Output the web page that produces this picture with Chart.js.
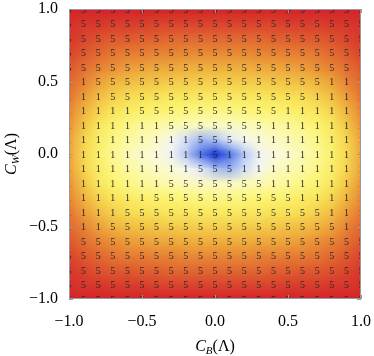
<!DOCTYPE html>
<html>
<head>
<meta charset="utf-8">
<script src="https://cdn.jsdelivr.net/npm/chart.js@4.4.1/dist/chart.umd.min.js"></script>
<style>
  html, body { margin: 0; padding: 0; background: #fff; }
</style>
</head>
<body>
<canvas id="chart" width="374" height="356"></canvas>
<script>
// grid of the density plot: C_B along x, C_W along y (top row first)
const xValues = [-1.0, -0.9, -0.8, -0.7, -0.6, -0.5, -0.4, -0.3, -0.2, -0.1, 0.0,
                 0.1, 0.2, 0.3, 0.4, 0.5, 0.6, 0.7, 0.8, 0.9, 1.0];
const yValues = [1.0, 0.9, 0.8, 0.7, 0.6, 0.5, 0.4, 0.3, 0.2, 0.1, 0.0,
                 -0.1, -0.2, -0.3, -0.4, -0.5, -0.6, -0.7, -0.8, -0.9, -1.0];

// the digit written at each grid point, one string per row
const labelRows = [
  '555555555555555555555',
  '555555555555555555555',
  '555555555555555555555',
  '555555555555555555555',
  '555555555555555555551',
  '115555555555555555111',
  '111555555555555551111',
  '111115555555555111111',
  '111111155555551111111',
  '111111111555111111111',
  '111111111151111111111',
  '111111111555111111111',
  '111111155555551111111',
  '111111555555555511111',
  '111155555555555555111',
  '111555555555555555511',
  '155555555555555555555',
  '555555555555555555555',
  '555555555555555555555',
  '555555555555555555555',
  '555555555555555555555'
];

// shade at each grid point (0 = blue, 0.43 = white, 0.6 = yellow, 1 = red)
const heatRows = [
  [1.00,1.00,1.00,1.00,1.00,1.00,1.00,1.00,1.00,1.00,1.00,1.00,1.00,1.00,1.00,1.00,1.00,1.00,1.00,1.00,1.00],
  [0.98,0.97,0.97,0.96,0.96,0.96,0.95,0.95,0.95,0.95,0.95,0.95,0.95,0.95,0.95,0.96,0.96,0.96,0.97,0.97,0.98],
  [0.97,0.95,0.93,0.92,0.92,0.91,0.91,0.90,0.90,0.90,0.90,0.90,0.90,0.90,0.91,0.91,0.92,0.92,0.93,0.95,0.97],
  [0.95,0.92,0.90,0.88,0.87,0.87,0.86,0.86,0.85,0.85,0.85,0.85,0.85,0.86,0.86,0.87,0.87,0.88,0.90,0.92,0.95],
  [0.92,0.89,0.86,0.84,0.82,0.81,0.80,0.80,0.79,0.79,0.79,0.79,0.79,0.80,0.80,0.81,0.82,0.84,0.86,0.89,0.92],
  [0.90,0.86,0.81,0.78,0.76,0.75,0.74,0.73,0.73,0.72,0.72,0.72,0.73,0.73,0.74,0.75,0.76,0.78,0.81,0.86,0.90],
  [0.88,0.82,0.76,0.72,0.69,0.68,0.67,0.65,0.65,0.64,0.64,0.64,0.65,0.65,0.67,0.68,0.69,0.72,0.76,0.82,0.88],
  [0.85,0.78,0.71,0.66,0.63,0.60,0.59,0.58,0.57,0.56,0.56,0.56,0.57,0.58,0.59,0.60,0.63,0.66,0.71,0.78,0.85],
  [0.83,0.74,0.65,0.59,0.56,0.53,0.52,0.50,0.49,0.48,0.48,0.48,0.49,0.50,0.52,0.53,0.56,0.59,0.65,0.74,0.83],
  [0.81,0.71,0.62,0.56,0.52,0.50,0.48,0.42,0.34,0.26,0.28,0.36,0.42,0.46,0.48,0.50,0.52,0.56,0.62,0.71,0.81],
  [0.80,0.70,0.60,0.54,0.50,0.47,0.45,0.40,0.30,0.14,0.00,0.14,0.30,0.40,0.45,0.47,0.50,0.54,0.60,0.70,0.80],
  [0.81,0.71,0.62,0.56,0.52,0.50,0.48,0.46,0.42,0.36,0.28,0.26,0.34,0.42,0.48,0.50,0.52,0.56,0.62,0.71,0.81],
  [0.83,0.74,0.65,0.59,0.56,0.53,0.52,0.50,0.49,0.48,0.48,0.48,0.49,0.50,0.52,0.53,0.56,0.59,0.65,0.74,0.83],
  [0.85,0.78,0.71,0.66,0.63,0.60,0.59,0.58,0.57,0.56,0.56,0.56,0.57,0.58,0.59,0.60,0.63,0.66,0.71,0.78,0.85],
  [0.88,0.82,0.76,0.72,0.69,0.68,0.67,0.65,0.65,0.64,0.64,0.64,0.65,0.65,0.67,0.68,0.69,0.72,0.76,0.82,0.88],
  [0.90,0.86,0.81,0.78,0.76,0.75,0.74,0.73,0.73,0.72,0.72,0.72,0.73,0.73,0.74,0.75,0.76,0.78,0.81,0.86,0.90],
  [0.92,0.89,0.86,0.84,0.82,0.81,0.80,0.80,0.79,0.79,0.79,0.79,0.79,0.80,0.80,0.81,0.82,0.84,0.86,0.89,0.92],
  [0.95,0.92,0.90,0.88,0.87,0.87,0.86,0.86,0.85,0.85,0.85,0.85,0.85,0.86,0.86,0.87,0.87,0.88,0.90,0.92,0.95],
  [0.97,0.95,0.93,0.92,0.92,0.91,0.91,0.90,0.90,0.90,0.90,0.90,0.90,0.90,0.91,0.91,0.92,0.92,0.93,0.95,0.97],
  [0.98,0.97,0.97,0.96,0.96,0.96,0.95,0.95,0.95,0.95,0.95,0.95,0.95,0.95,0.95,0.96,0.96,0.96,0.97,0.97,0.98],
  [1.00,1.00,1.00,1.00,1.00,1.00,1.00,1.00,1.00,1.00,1.00,1.00,1.00,1.00,1.00,1.00,1.00,1.00,1.00,1.00,1.00]
];

const tickValues = [-1.0, -0.5, 0.0, 0.5, 1.0];
const tickLabels = ['\u22121.0', '\u22120.5', '0.0', '0.5', '1.0'];

// colour ramp used for the shading
const rampStops = [
  [0.00, [25, 55, 215]],
  [0.12, [70, 110, 230]],
  [0.25, [150, 175, 240]],
  [0.36, [225, 232, 248]],
  [0.43, [250, 250, 240]],
  [0.50, [252, 250, 178]],
  [0.58, [252, 245, 115]],
  [0.68, [248, 225, 85]],
  [0.78, [240, 180, 62]],
  [0.87, [230, 125, 52]],
  [0.94, [220, 75, 45]],
  [1.00, [212, 36, 42]]
];

const serif = "'Liberation Serif', 'Times New Roman', Times, 'Nimbus Roman', serif";

function rampColor(v) {
  for (let k = 1; k < rampStops.length; k++) {
    const [v1, c1] = rampStops[k];
    if (v <= v1) {
      const [v0, c0] = rampStops[k - 1];
      const t = (v - v0) / (v1 - v0);
      return c0.map((c, n) => Math.round(c + (c1[n] - c) * t));
    }
  }
  return rampStops[rampStops.length - 1][1];
}

const points = [];
yValues.forEach((yv, j) => {
  xValues.forEach((xv, i) => {
    points.push({ x: xv, y: yv, t: labelRows[j][i] });
  });
});

// smooth shading under the digits
const heatmapPlugin = {
  id: 'heatmap',
  beforeDatasetsDraw(chart) {
    const { ctx, chartArea: a, scales: { x, y } } = chart;
    const nx = xValues.length, ny = yValues.length;
    const off = document.createElement('canvas');
    off.width = nx;
    off.height = ny;
    const octx = off.getContext('2d');
    const img = octx.createImageData(nx, ny);
    for (let j = 0; j < ny; j++) {
      for (let i = 0; i < nx; i++) {
        const c = rampColor(heatRows[j][i]);
        const p = (j * nx + i) * 4;
        img.data[p] = c[0];
        img.data[p + 1] = c[1];
        img.data[p + 2] = c[2];
        img.data[p + 3] = 255;
      }
    }
    octx.putImageData(img, 0, 0);
    const hx = (xValues[1] - xValues[0]) / 2;
    const hy = (yValues[0] - yValues[1]) / 2;
    const x0 = x.getPixelForValue(xValues[0] - hx);
    const x1 = x.getPixelForValue(xValues[nx - 1] + hx);
    const y0 = y.getPixelForValue(yValues[0] + hy);
    const y1 = y.getPixelForValue(yValues[ny - 1] - hy);
    ctx.save();
    ctx.beginPath();
    ctx.rect(a.left, a.top, a.right - a.left, a.bottom - a.top);
    ctx.clip();
    ctx.imageSmoothingEnabled = true;
    ctx.imageSmoothingQuality = 'low';
    ctx.drawImage(off, x0, y0, x1 - x0, y1 - y0);
    ctx.restore();
  }
};

// the 1 / 5 digits at the dataset points
const digitPlugin = {
  id: 'digits',
  afterDatasetsDraw(chart) {
    const { ctx, chartArea: a } = chart;
    const meta = chart.getDatasetMeta(0);
    ctx.save();
    ctx.beginPath();
    ctx.rect(a.left, a.top, a.right - a.left, a.bottom - a.top);
    ctx.clip();
    ctx.font = '10px ' + serif;
    ctx.fillStyle = '#2a2a2a';
    ctx.textAlign = 'center';
    ctx.textBaseline = 'middle';
    meta.data.forEach((el, k) => {
      ctx.fillText(points[k].t, el.x, el.y + 1);
    });
    ctx.restore();
  }
};

// frame with short inward ticks
const framePlugin = {
  id: 'frame',
  afterDraw(chart) {
    const { ctx, chartArea: a, scales: { x, y } } = chart;
    ctx.save();
    ctx.strokeStyle = '#9a9a9a';
    ctx.lineWidth = 1;
    ctx.strokeRect(a.left + 0.5, a.top + 0.5, a.right - a.left - 1, a.bottom - a.top - 1);
    ctx.beginPath();
    tickValues.forEach((v) => {
      const px = Math.round(x.getPixelForValue(v)) + 0.5;
      const py = Math.round(y.getPixelForValue(v)) + 0.5;
      ctx.moveTo(px, a.bottom); ctx.lineTo(px, a.bottom - 4);
      ctx.moveTo(px, a.top); ctx.lineTo(px, a.top + 4);
      ctx.moveTo(a.left, py); ctx.lineTo(a.left + 4, py);
      ctx.moveTo(a.right, py); ctx.lineTo(a.right - 4, py);
    });
    ctx.stroke();
    ctx.restore();
  }
};

function drawPieces(ctx, pieces, cx, baseline) {
  let total = 0;
  pieces.forEach((p) => { ctx.font = p.font; total += ctx.measureText(p.text).width; });
  let px = cx - total / 2;
  pieces.forEach((p) => {
    ctx.font = p.font;
    ctx.fillText(p.text, px, baseline + p.dy);
    px += ctx.measureText(p.text).width;
  });
}

// axis titles with italic C and a subscript
const axisTitlePlugin = {
  id: 'axisTitles',
  afterDraw(chart) {
    const { ctx, chartArea: a } = chart;
    ctx.save();
    ctx.fillStyle = '#000';
    ctx.textAlign = 'left';
    ctx.textBaseline = 'alphabetic';
    drawPieces(ctx, [
      { text: 'C', font: 'italic 16px ' + serif, dy: 0 },
      { text: 'B', font: 'italic 11px ' + serif, dy: 3 },
      { text: '(\u039B)', font: '16px ' + serif, dy: 0 }
    ], (a.left + a.right) / 2, 351);
    ctx.translate(16, (a.top + a.bottom) / 2);
    ctx.rotate(-Math.PI / 2);
    drawPieces(ctx, [
      { text: 'C', font: 'italic 16px ' + serif, dy: 0 },
      { text: 'W', font: 'italic 11px ' + serif, dy: 3 },
      { text: '(\u039B)', font: '16px ' + serif, dy: 0 }
    ], 0, 0);
    ctx.restore();
  }
};

const tickFont = { family: serif, size: 16 };

new Chart(document.getElementById('chart'), {
  type: 'scatter',
  data: {
    datasets: [{
      data: points,
      pointRadius: 0,
      pointHoverRadius: 0
    }]
  },
  options: {
    responsive: false,
    animation: false,
    events: [],
    layout: { padding: { top: 9, right: 13, left: 0, bottom: 0 } },
    plugins: {
      legend: { display: false },
      tooltip: { enabled: false }
    },
    scales: {
      x: {
        type: 'linear',
        min: -1,
        max: 1,
        grid: { display: false },
        border: { display: false },
        afterBuildTicks(s) { s.ticks = tickValues.map((v) => ({ value: v })); },
        afterFit(s) { s.height = 57; s.paddingLeft = 0; s.paddingRight = 0; },
        ticks: {
          autoSkip: false,
          maxRotation: 0,
          padding: 5,
          color: '#000',
          font: tickFont,
          callback: (v, i) => tickLabels[i]
        }
      },
      y: {
        type: 'linear',
        min: -1,
        max: 1,
        grid: { display: false },
        border: { display: false },
        afterBuildTicks(s) { s.ticks = tickValues.map((v) => ({ value: v })); },
        afterFit(s) { s.width = 69; s.paddingTop = 0; s.paddingBottom = 0; },
        ticks: {
          autoSkip: false,
          padding: 3,
          color: '#000',
          font: tickFont,
          callback: (v, i) => tickLabels[i]
        }
      }
    }
  },
  plugins: [heatmapPlugin, digitPlugin, framePlugin, axisTitlePlugin]
});
</script>
</body>
</html>
